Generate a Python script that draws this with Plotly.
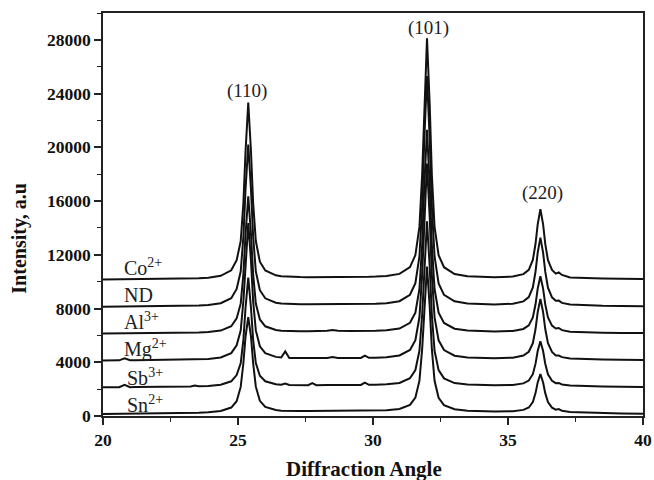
import plotly.graph_objects as go

# Diffraction angle grid (2-theta, degrees)
two_theta = [20.0, 20.6, 20.8, 21.0, 21.2, 22.0, 22.8, 23.25, 23.4, 23.55,
             23.9, 24.36, 24.75, 24.95, 25.10, 25.20, 25.28, 25.38, 25.48, 25.56, 25.66, 25.81, 26.01, 26.40,
             26.6, 26.75, 26.9, 27.3, 27.6, 27.75, 27.9, 28.3, 28.5, 28.7, 29.2, 29.55, 29.7, 29.85, 30.1,
             30.5, 30.98, 31.37, 31.57, 31.72, 31.82, 31.90, 32.0, 32.10, 32.18, 32.28, 32.43, 32.63, 33.02, 33.5,
             34.0, 34.5,
             35.18, 35.57, 35.77, 35.92, 36.02, 36.10, 36.2, 36.30, 36.38, 36.48, 36.63, 36.77, 36.88, 37.0, 37.3, 37.8,
             38.5, 39.2, 40.0]

co = [10160, 10167, 10170, 10174, 10177, 10193, 10215, 10234, 10244, 10255,
      10294, 10432, 10843, 11595, 13011, 15856, 19723, 23327, 19727, 15863, 13023, 11488, 10832, 10471,
      10407, 10381, 10365, 10340, 10335, 10334, 10334, 10343, 10347, 10348, 10349, 10353, 10358, 10365, 10380,
      10424, 10579, 11082, 11981, 14077, 17949, 23213, 28118, 23209, 17944, 14069, 11971, 11077, 10567, 10404,
      10349, 10332,
      10380, 10560, 10884, 11614, 12822, 14263, 15395, 14260, 12817, 11605, 10870, 10600, 10690, 10500, 10318, 10263,
      10230, 10209, 10193]

nd = [8139, 8146, 8150, 8153, 8156, 8171, 8192, 8210, 8220, 8229,
      8265, 8393, 8770, 9459, 10757, 13363, 16905, 20207, 16909, 13370, 10769, 9363, 8762, 8433,
      8374, 8351, 8337, 8315, 8310, 8310, 8310, 8320, 8324, 8325, 8325, 8330, 8335, 8341, 8355,
      8397, 8546, 9026, 9884, 11883, 15582, 20610, 25298, 20609, 15580, 11879, 9874, 9021, 8534, 8378,
      8325, 8309,
      8356, 8533, 8851, 9566, 10751, 12164, 13274, 12161, 10747, 9557, 8837, 8580, 8590, 8420, 8296, 8241,
      8209, 8189, 8173]

al = [6137, 6145, 6148, 6151, 6154, 6168, 6186, 6202, 6211, 6219,
      6250, 6360, 6680, 7264, 8362, 10567, 13563, 16356, 13563, 10574, 8374, 7185, 6678, 6401,
      6352, 6332, 6321, 6305, 6302, 6302, 6303, 6340, 6408, 6338, 6319, 6322, 6300, 6332, 6344,
      6381, 6512, 6935, 7692, 9457, 12722, 17160, 21298, 17159, 12720, 9453, 7683, 6929, 6499, 6361,
      6312, 6297,
      6334, 6480, 6742, 7334, 8314, 9483, 10402, 9481, 8312, 7331, 6729, 6510, 6553, 6390, 6279, 6232,
      6205, 6185, 6171]

mg = [4137, 4145, 4298, 4155, 4154, 4168, 4186, 4202, 4211, 4219,
      4250, 4360, 4680, 5264, 6362, 8567, 11563, 14356, 11563, 8574, 6374, 5185, 4678, 4400,
      4351, 4812, 4320, 4304, 4301, 4301, 4302, 4310, 4386, 4325, 4317, 4320, 4500, 4330, 4342,
      4377, 4504, 4913, 5645, 7350, 10507, 14798, 18798, 14797, 10505, 7346, 5636, 4908, 4492, 4358,
      4312, 4298,
      4340, 4498, 4782, 5419, 6474, 7733, 8722, 7731, 6472, 5416, 4769, 4510, 4500, 4381, 4285, 4235,
      4206, 4186, 4171]

sb = [2136, 2143, 2315, 2148, 2151, 2164, 2181, 2195, 2262, 2209,
      2234, 2324, 2582, 3049, 3925, 5685, 8077, 10306, 8077, 5692, 3937, 2990, 2586, 2366,
      2328, 2413, 2304, 2293, 2293, 2443, 2295, 2306, 2311, 2311, 2311, 2313, 2485, 2320, 2330,
      2359, 2464, 2808, 3424, 4860, 7518, 11130, 14498, 11129, 7517, 4856, 3416, 2802, 2450, 2337,
      2296, 2283,
      2312, 2427, 2637, 3111, 3896, 4833, 5569, 4832, 3894, 3108, 2624, 2441, 2463, 2350, 2262, 2224,
      2200, 2182, 2168]

sn = [154, 164, 168, 171, 175, 191, 210, 224, 232, 239,
      273, 367, 629, 1098, 2166, 3944, 5935, 7358, 5937, 3955, 2184, 1127, 673, 441,
      398, 385, 377, 371, 373, 375, 378, 396, 404, 403, 400, 399, 400, 404, 411,
      434, 523, 825, 1366, 2631, 4974, 8159, 11127, 8157, 4973, 2625, 1355, 813, 499, 397,
      358, 342,
      362, 456, 634, 1036, 1703, 2500, 3125, 2498, 1700, 1032, 617, 470, 513, 386, 304, 268,
      242, 190, 170]

series = [("Co", co), ("ND", nd), ("Al", al), ("Mg", mg), ("Sb", sb), ("Sn", sn)]

# series labels (text, x, y)
label_text = ["Co<sup>2+</sup>", "ND", "Al<sup>3+</sup>", "Mg<sup>2+</sup>", "Sb<sup>3+</sup>", "Sn<sup>2+</sup>"]
label_x = [20.69, 20.69, 20.69, 20.69, 20.80, 20.80]
label_y = [11080, 8990, 7050, 5050, 2870, 860]

# peak labels
peak_text = ["(110)", "(101)", "(220)"]
peak_x = [25.35, 32.04, 36.26]
peak_y = [24190, 28880, 16590]

x_ticks = [20, 25, 30, 35, 40]
x_ticktext = ["20", "25", "30", "35", "40"]
y_ticks = [0, 4000, 8000, 12000, 16000, 20000, 24000, 28000]
y_ticktext = ["0", "4000", "8000", "12000", "16000", "20000", "24000", "28000"]

fig = go.Figure()
for name, ys in series:
    fig.add_trace(go.Scatter(x=two_theta, y=ys, mode="lines", name=name,
                             line=dict(color="#111111", width=2), showlegend=False))

serif = "Liberation Serif, Times New Roman, serif"
ann = []
for t, x, y in zip(label_text, label_x, label_y):
    ann.append(dict(x=x, y=y, xref="x", yref="y", text=t, showarrow=False, xanchor="left",
                    yanchor="middle", font=dict(family=serif, size=20, color="#222")))
for t, x, y in zip(peak_text, peak_x, peak_y):
    ann.append(dict(x=x, y=y, xref="x", yref="y", text=t, showarrow=False, xanchor="center",
                    yanchor="middle", font=dict(family=serif, size=19, color="#222")))
ann.append(dict(x=-0.1537, y=0.44, xref="paper", yref="paper", text="Intensity, a.u", textangle=-90,
                showarrow=False, xanchor="center", yanchor="middle",
                font=dict(family=serif, size=20, color="#111", weight="bold")))
ann.append(dict(x=0.483, y=-0.132, xref="paper", yref="paper", text="Diffraction Angle",
                showarrow=False, xanchor="center", yanchor="middle",
                font=dict(family=serif, size=21, color="#111", weight="bold")))

fig.update_layout(
    width=654, height=480,
    margin=dict(l=103, r=11, t=13, b=64, autoexpand=False),
    plot_bgcolor="white", paper_bgcolor="white",
    annotations=ann,
    xaxis=dict(range=[20, 40], tickvals=x_ticks, ticktext=x_ticktext, ticks="outside", ticklen=7, tickwidth=1.5,
               tickcolor="#222", showline=True, linecolor="#222", linewidth=1.5, mirror=True,
               showgrid=False, zeroline=False, automargin=False,
               tickfont=dict(family=serif, size=17.5, color="#111", weight="bold"),
               minor=dict(dtick=2.5, tick0=20, ticks="outside", ticklen=4, tickwidth=1.2, tickcolor="#222")),
    yaxis=dict(range=[0, 30000], tickvals=y_ticks, ticktext=y_ticktext, ticks="outside", ticklen=7, tickwidth=1.5,
               tickcolor="#222", showline=True, linecolor="#222", linewidth=1.5, mirror=True,
               showgrid=False, zeroline=False, automargin=False,
               tickfont=dict(family=serif, size=17.5, color="#111", weight="bold"),
               minor=dict(dtick=2000, tick0=0, ticks="outside", ticklen=4, tickwidth=1.2, tickcolor="#222")),
)

fig.write_html("out.html")
